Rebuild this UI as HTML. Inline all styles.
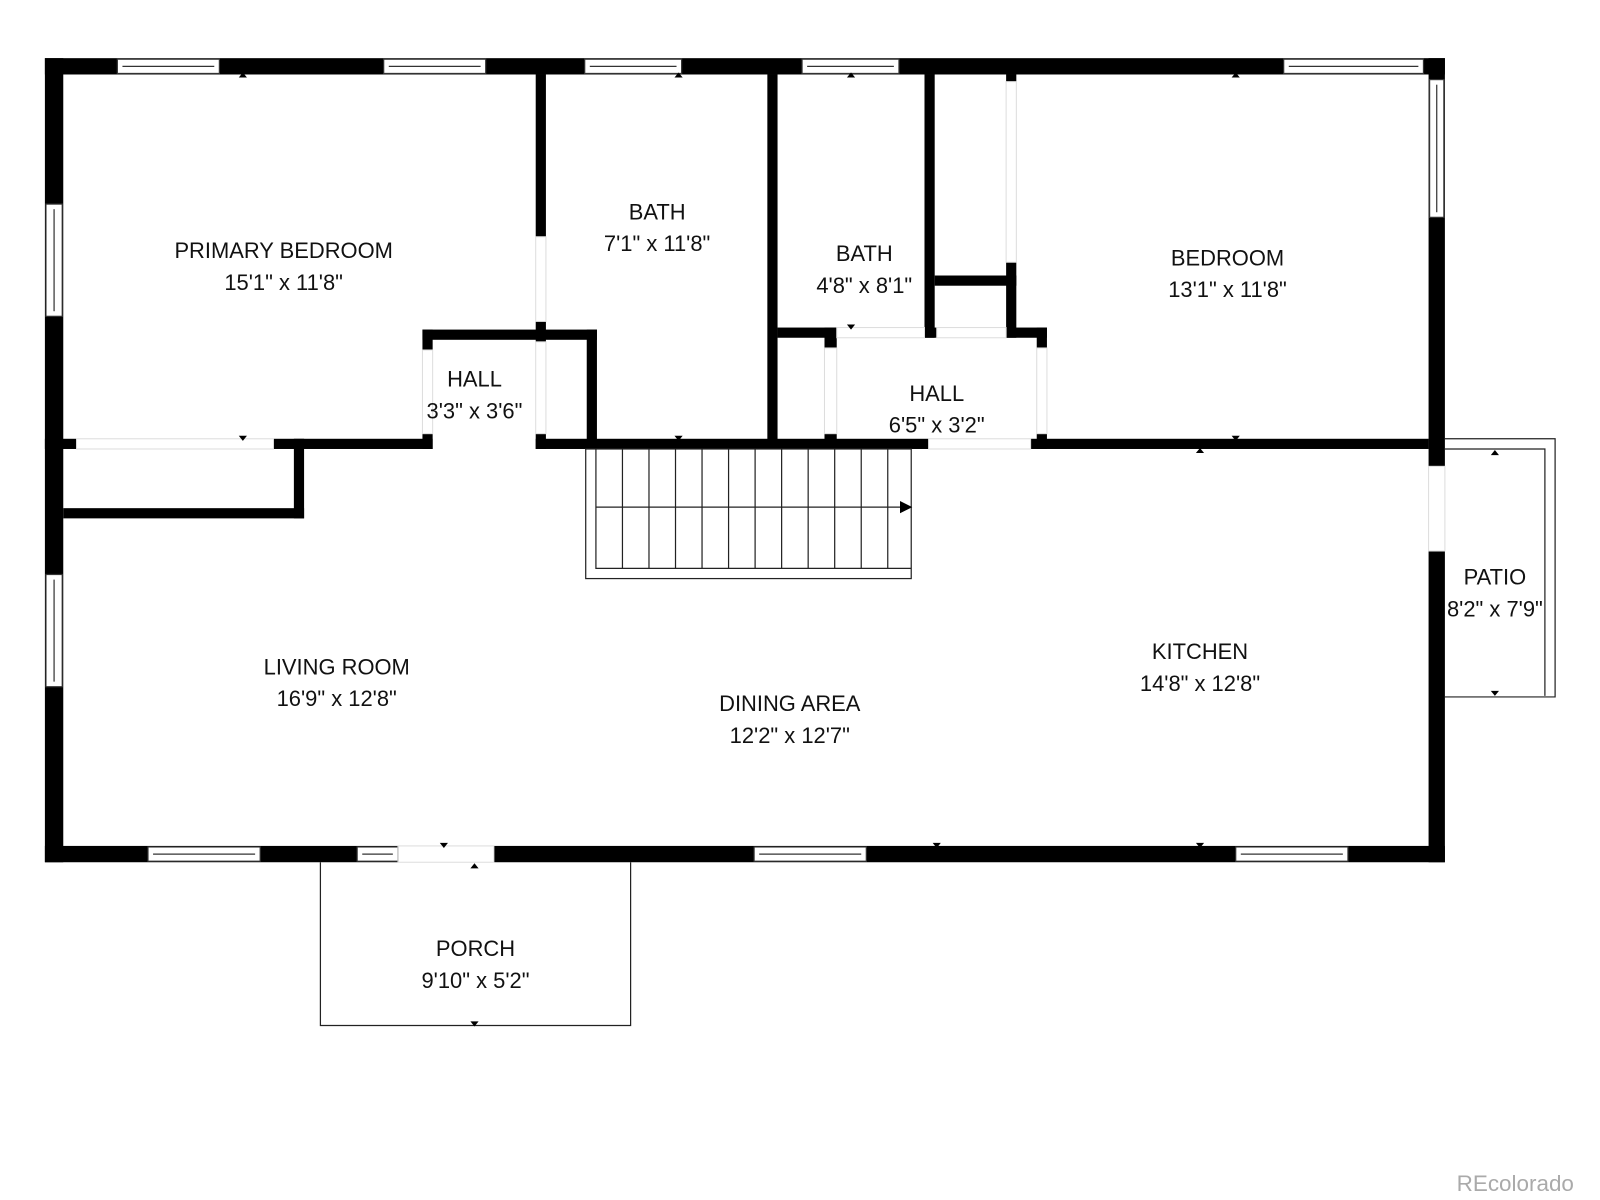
<!DOCTYPE html>
<html><head><style>
html,body{margin:0;padding:0;background:#fff;}
svg{display:block;}
text{font-family:"Liberation Sans","DejaVu Sans",sans-serif;font-size:21.5px;fill:#111;text-anchor:middle;}
</style></head><body>
<svg width="1600" height="1200" viewBox="0 0 1568 1176" xmlns="http://www.w3.org/2000/svg">
<rect width="1568" height="1176" fill="#fff"/>
<g fill="#000">
<rect x="44" y="57" width="1372" height="16"/>
<rect x="44" y="57" width="18" height="788"/>
<rect x="1400" y="57" width="16" height="400"/>
<rect x="1400" y="540" width="16" height="305"/>
<rect x="44" y="829" width="346" height="16"/>
<rect x="484" y="829" width="932" height="16"/>
<rect x="525" y="73" width="10" height="159"/>
<rect x="525" y="315" width="10" height="20"/>
<rect x="525" y="425" width="10" height="15"/>
<rect x="414" y="323" width="171" height="10"/>
<rect x="414" y="323" width="10" height="20"/>
<rect x="414" y="425" width="10" height="15"/>
<rect x="575" y="323" width="10" height="117"/>
<rect x="44" y="430" width="31" height="10"/>
<rect x="268" y="430" width="156" height="10"/>
<rect x="525" y="430" width="385" height="10"/>
<rect x="1010" y="430" width="390" height="10"/>
<rect x="288" y="430" width="10" height="78"/>
<rect x="62" y="498" width="236" height="10"/>
<rect x="752" y="73" width="10" height="367"/>
<rect x="762" y="321" width="58" height="10"/>
<rect x="808" y="321" width="12" height="20"/>
<rect x="808" y="425" width="12" height="15"/>
<rect x="906" y="73" width="10" height="258"/>
<rect x="906" y="321" width="12" height="10"/>
<rect x="916" y="270" width="80" height="10"/>
<rect x="986" y="73" width="10" height="7"/>
<rect x="986" y="257" width="10" height="74"/>
<rect x="986" y="321" width="40" height="10"/>
<rect x="1016" y="321" width="10" height="20"/>
<rect x="1016" y="425" width="10" height="15"/>
</g>
<g fill="#fff" stroke="#333" stroke-width="1.2">
<rect x="115" y="58" width="100" height="14"/><line x1="120" y1="65" x2="210" y2="65"/>
<rect x="376" y="58" width="100" height="14"/><line x1="381" y1="65" x2="471" y2="65"/>
<rect x="573" y="58" width="95" height="14"/><line x1="578" y1="65" x2="663" y2="65"/>
<rect x="786" y="58" width="95" height="14"/><line x1="791" y1="65" x2="876" y2="65"/>
<rect x="1258" y="58" width="137" height="14"/><line x1="1263" y1="65" x2="1390" y2="65"/>
<rect x="1401" y="78" width="14" height="135"/><line x1="1408" y1="83" x2="1408" y2="208"/>
<rect x="45" y="200" width="16" height="110"/><line x1="53" y1="205" x2="53" y2="305"/>
<rect x="45" y="563" width="16" height="110"/><line x1="53" y1="568" x2="53" y2="668"/>
<rect x="145" y="830" width="110" height="14"/><line x1="150" y1="837" x2="250" y2="837"/>
<rect x="350" y="830" width="40" height="14"/><line x1="355" y1="837" x2="385" y2="837"/>
<rect x="739" y="830" width="110" height="14"/><line x1="744" y1="837" x2="844" y2="837"/>
<rect x="1211" y="830" width="110" height="14"/><line x1="1216" y1="837" x2="1316" y2="837"/>
</g>
<g fill="none" stroke="#ddd" stroke-width="1">
<rect x="75" y="430" width="193" height="10"/>
<rect x="525" y="232" width="10" height="83"/>
<rect x="414" y="343" width="10" height="82"/>
<rect x="525" y="335" width="10" height="90"/>
<rect x="820" y="321" width="86" height="10"/>
<rect x="918" y="321" width="68" height="10"/>
<rect x="808" y="341" width="12" height="84"/>
<rect x="1016" y="341" width="10" height="84"/>
<rect x="910" y="430" width="100" height="10"/>
<rect x="986" y="80" width="10" height="177"/>
<rect x="1400" y="457" width="16" height="83"/>
<rect x="390" y="829" width="94" height="16"/>
</g>
<g fill="none" stroke="#222" stroke-width="1.2">
<rect x="574" y="440" width="319" height="127"/>
<polyline points="584,440 584,557 893,557"/>
<line x1="610" y1="440" x2="610" y2="557"/><line x1="636" y1="440" x2="636" y2="557"/>
<line x1="662" y1="440" x2="662" y2="557"/><line x1="688" y1="440" x2="688" y2="557"/>
<line x1="714" y1="440" x2="714" y2="557"/><line x1="740" y1="440" x2="740" y2="557"/>
<line x1="766" y1="440" x2="766" y2="557"/><line x1="792" y1="440" x2="792" y2="557"/>
<line x1="818" y1="440" x2="818" y2="557"/><line x1="844" y1="440" x2="844" y2="557"/>
<line x1="870" y1="440" x2="870" y2="557"/>
<line x1="584" y1="497" x2="884" y2="497"/>
<polyline points="1416,430 1524,430 1524,683 1416,683"/>
<polyline points="1416,440 1514,440 1514,682"/>
<polyline points="314,845 314,1005 618,1005 618,845"/>
</g>
<polygon points="882,491 894,497 882,503" fill="#000"/>
<g fill="#000">
<polygon points="234,76 242,76 238,71"/><polygon points="234,427 242,427 238,432"/>
<polygon points="661,76 669,76 665,71"/><polygon points="661,427 669,427 665,432"/>
<polygon points="830,76 838,76 834,71"/><polygon points="830,318 838,318 834,323"/>
<polygon points="1207,76 1215,76 1211,71"/><polygon points="1207,427 1215,427 1211,432"/>
<polygon points="1172,444 1180,444 1176,439"/><polygon points="914,826 922,826 918,831"/>
<polygon points="1172,826 1180,826 1176,831"/><polygon points="431,826 439,826 435,831"/>
<polygon points="461,851 469,851 465,846"/><polygon points="461,1001 469,1001 465,1006"/>
<polygon points="1461,446 1469,446 1465,441"/><polygon points="1461,677 1469,677 1465,682"/>
</g>
<text x="278" y="253">PRIMARY BEDROOM</text><text x="278" y="284">15'1" x 11'8"</text>
<text x="644" y="215">BATH</text><text x="644" y="246">7'1" x 11'8"</text>
<text x="847" y="256">BATH</text><text x="847" y="287">4'8" x 8'1"</text>
<text x="1203" y="260">BEDROOM</text><text x="1203" y="291">13'1" x 11'8"</text>
<text x="465" y="379">HALL</text><text x="465" y="410">3'3" x 3'6"</text>
<text x="918" y="393">HALL</text><text x="918" y="424">6'5" x 3'2"</text>
<text x="1465" y="573">PATIO</text><text x="1465" y="604">8'2" x 7'9"</text>
<text x="330" y="661">LIVING ROOM</text><text x="330" y="692">16'9" x 12'8"</text>
<text x="1176" y="646">KITCHEN</text><text x="1176" y="677">14'8" x 12'8"</text>
<text x="774" y="697">DINING AREA</text><text x="774" y="728">12'2" x 12'7"</text>
<text x="466" y="937">PORCH</text><text x="466" y="968">9'10" x 5'2"</text>
<text x="1485" y="1167" style="fill:#aaa;font-size:22px">REcolorado</text>
</svg>
</body></html>
